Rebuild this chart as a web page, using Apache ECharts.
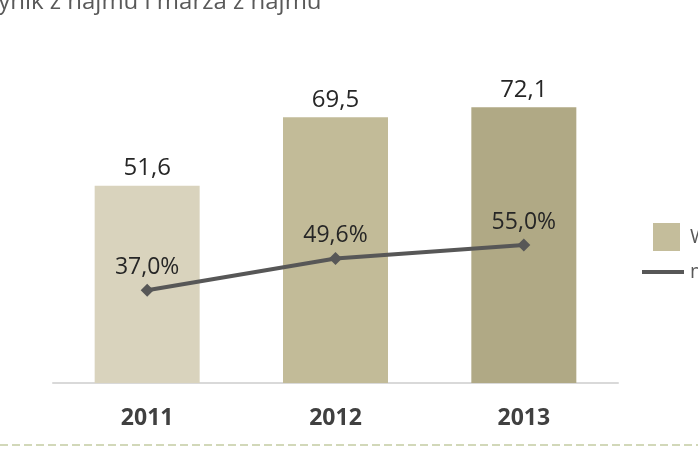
<!DOCTYPE html>
<html>
<head>
<meta charset="utf-8">
<script src="https://cdn.jsdelivr.net/npm/echarts@6/dist/echarts.min.js"></script>
<style>html,body{margin:0;padding:0;background:#fff;}#c{width:698px;height:456px;}</style>
</head>
<body>
<div id="c"></div>
<script>
var categories = ['2011', '2012', '2013'];
var wynik = [51.6, 69.5, 72.1];
var marza = [37.0, 49.6, 55.0];
var barColors = ['#d9d3bd', '#c2bb98', '#b0a985'];
var seriesNames = ['Wynik z najmu', 'marża z najmu'];
var titleText = 'Wynik z najmu i marża z najmu';

function fmt(v, d) { return v.toFixed(d).replace('.', ','); }

var chart = echarts.init(document.getElementById('c'), null, {renderer: 'canvas'});
chart.setOption({
  animation: false,
  backgroundColor: '#ffffff',
  textStyle: {fontFamily: 'Open Sans'},
  grid: {left: 53, right: 80, top: 77, bottom: 73},
  legend: [{
    data: [seriesNames[0]], orient: 'vertical', left: 648, top: 218,
    itemWidth: 27, itemHeight: 28, itemGap: 10, icon: 'rect',
    textStyle: {fontSize: 20, color: '#595959', padding: [0, 0, 0, 5]}
  }, {
    data: [seriesNames[1]], orient: 'vertical', left: 637, top: 257,
    itemWidth: 42, itemHeight: 4, icon: 'rect',
    textStyle: {fontSize: 20, color: '#595959', padding: [0, 0, 0, 1]}
  }],
  xAxis: {
    type: 'category', data: categories,
    axisLine: {show: true, lineStyle: {color: '#d9d9d9', width: 2}},
    axisTick: {show: false},
    axisLabel: {fontSize: 23, fontWeight: 'bold', color: '#404040', margin: 24, fontFamily: 'Open Sans'}
  },
  yAxis: [
    {type: 'value', min: 0, max: 80, show: false, splitLine: {show: false}},
    {type: 'value', min: 0, max: 122, show: false, splitLine: {show: false}}
  ],
  series: [{
    name: seriesNames[0], type: 'bar', yAxisIndex: 0, barWidth: 105,
    itemStyle: {color: '#c4bd9b'},
    data: wynik.map(function (v, i) { return {value: v, itemStyle: {color: barColors[i]}}; }),
    label: {show: true, position: 'top', distance: 5, fontSize: 24, color: '#262626',
      fontFamily: 'Open Sans', formatter: function (p) { return fmt(p.value, 1); }}
  }, {
    name: seriesNames[1], type: 'line', yAxisIndex: 1, data: marza,
    lineStyle: {color: '#575757', width: 4}, itemStyle: {color: '#575757'},
    symbol: 'diamond', symbolSize: 13, z: 5,
    label: {show: true, position: 'top', distance: 5, fontSize: 23, color: '#262626',
      fontFamily: 'Open Sans', formatter: function (p) { return fmt(p.value, 1) + '%'; }}
  }],
  graphic: [{
    type: 'text', left: -24, top: -10,
    style: {text: titleText, fontSize: 24, fill: '#595959', fontFamily: 'Open Sans'}
  }, {
    type: 'line', shape: {x1: 0, y1: 445, x2: 698, y2: 445},
    style: {stroke: '#c3cba3', lineWidth: 1.5, lineDash: [8, 4]}
  }]
});
</script>
</body>
</html>
